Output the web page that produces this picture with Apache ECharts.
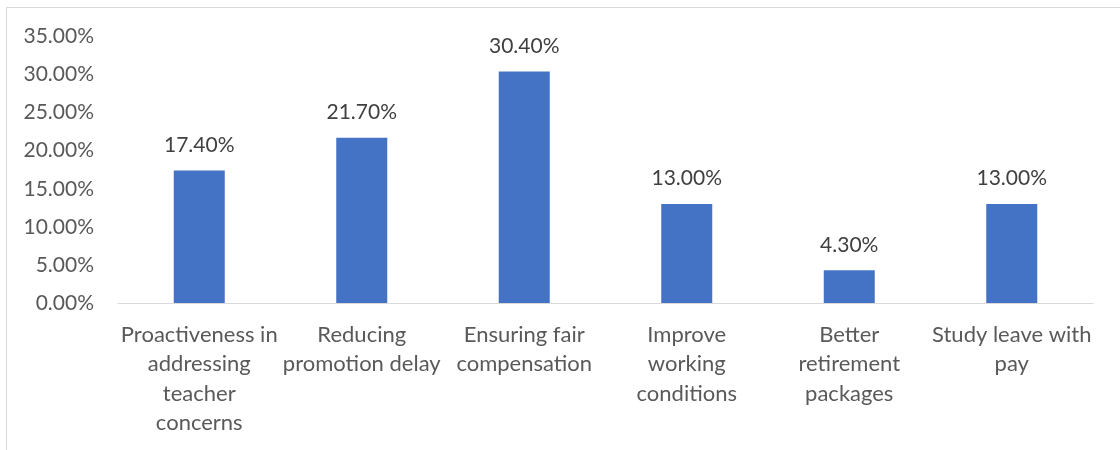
<!DOCTYPE html>
<html>
<head>
<meta charset="utf-8">
<script src="https://cdn.jsdelivr.net/npm/echarts@6/dist/echarts.min.js"></script>
<style>
html,body{margin:0;padding:0;background:#fff;}
#chart{width:1120px;height:450px;}
</style>
</head>
<body>
<div id="chart"></div>
<script>
var categories = [
  "Proactiveness in\naddressing\nteacher\nconcerns",
  "Reducing\npromotion delay",
  "Ensuring fair\ncompensation",
  "Improve\nworking\nconditions",
  "Better\nretirement\npackages",
  "Study leave with\npay"
];
var values = [17.4, 21.7, 30.4, 13.0, 4.3, 13.0];
var yMin = 0, yMax = 35, yStep = 5;

var FONT = "Lato";
var chart = echarts.init(document.getElementById('chart'), null, {renderer: 'canvas'});
chart.setOption({
  animation: false,
  backgroundColor: '#ffffff',
  graphic: [{
    type: 'rect',
    shape: {x: 6.5, y: 7.5, width: 3000, height: 3000},
    style: {fill: 'none', stroke: '#d9d9d9', lineWidth: 1},
    silent: true
  }],
  grid: {left: 118, right: 27, top: 36.5, bottom: 147, containLabel: false},
  xAxis: {
    type: 'category',
    data: categories,
    axisLine: {show: true, lineStyle: {color: '#d9d9d9', width: 1}},
    axisTick: {show: false},
    axisLabel: {
      interval: 0,
      color: '#595959',
      fontFamily: FONT,
      fontSize: 22,
      lineHeight: 29.5,
      margin: 17,
      align: 'center'
    }
  },
  yAxis: {
    type: 'value',
    min: yMin, max: yMax, interval: yStep,
    axisLine: {show: false},
    axisTick: {show: false},
    splitLine: {show: false},
    axisLabel: {
      color: '#595959',
      fontFamily: FONT,
      fontSize: 21,
      margin: 24,
      formatter: function (v) { return v.toFixed(2) + '%'; }
    }
  },
  series: [{
    type: 'bar',
    data: values,
    barWidth: 51,
    itemStyle: {color: '#4472C4'},
    label: {
      show: true,
      position: 'top',
      distance: 15,
      color: '#404040',
      fontFamily: FONT,
      fontSize: 21,
      formatter: function (p) { return p.value.toFixed(2) + '%'; }
    }
  }]
});
</script>
</body>
</html>
